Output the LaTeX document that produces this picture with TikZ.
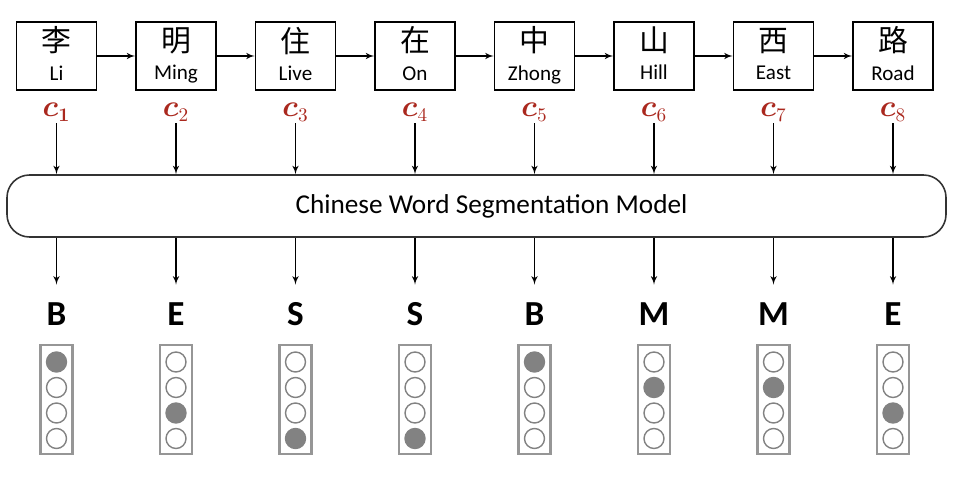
\documentclass[tikz,border=0pt]{standalone}
\usepackage{amsmath}
\usepackage{bm}
\usepackage{fontspec}
\setmainfont{Carlito}
\newfontfamily\cjk{Noto Sans CJK SC}
\usepackage{tikz}
\usetikzlibrary{arrows, positioning, shapes}
\definecolor{cred}{RGB}{170,40,30}
\definecolor{dotgray}{RGB}{130,130,130}
\definecolor{boxgray}{RGB}{150,150,150}
\newcommand{\hz}[1]{{\cjk\fontsize{17}{17}\selectfont #1}}
\tikzstyle{word} = [rectangle, draw=black, line width=0.9pt, minimum width=1.6cm, minimum height=1.36cm, align=center, font=\fontsize{12}{16}\selectfont, text depth=0.1cm, inner sep=0pt]
\tikzstyle{clabel} = [text=cred, font=\fontsize{16}{18}\selectfont, inner sep=1pt]
\tikzstyle{model} = [rectangle, rounded corners=0.45cm, draw=black!80, line width=0.9pt, minimum width=18.78cm, minimum height=1.24cm, font=\fontsize{15.5}{18}\selectfont]
\tikzstyle{tag} = [font=\fontsize{20}{24}\selectfont\bfseries, text height=0.45cm, text depth=0pt, inner xsep=2pt, inner ysep=0.355cm]
\tikzstyle{tagbox} = [rectangle, draw=boxgray, line width=1.2pt, minimum width=0.64cm, minimum height=2.18cm]
\tikzstyle{dotoff} = [circle, draw=dotgray, line width=0.8pt, minimum size=0.4cm, inner sep=0pt]
\tikzstyle{doton} = [dotoff, fill=dotgray]
\tikzstyle{line} = [draw, line width=0.7pt, -latex']

\begin{document}
\begin{tikzpicture}[node distance = 2.39cm]
	\useasboundingbox (0,0) rectangle (19.28,-9.68);
	% characters
	\node (w1) [word] at (1.13,-1.12) {\hz{李}\\Li};
	\node (w2) [word, right of=w1] {\hz{明}\\Ming};
	\node (w3) [word, right of=w2] {\hz{住}\\Live};
	\node (w4) [word, right of=w3] {\hz{在}\\On};
	\node (w5) [word, right of=w4] {\hz{中}\\Zhong};
	\node (w6) [word, right of=w5] {\hz{山}\\Hill};
	\node (w7) [word, right of=w6] {\hz{西}\\East};
	\node (w8) [word, right of=w7] {\hz{路}\\Road};

	\node (c1) [clabel, below of=w1, node distance=1.12cm] {$\bm{c}_{\bm{1}}$};
	\node (c2) [clabel, below of=w2, node distance=1.12cm] {$\bm{c}_2$};
	\node (c3) [clabel, below of=w3, node distance=1.12cm] {$\bm{c}_3$};
	\node (c4) [clabel, below of=w4, node distance=1.12cm] {$\bm{c}_4$};
	\node (c5) [clabel, below of=w5, node distance=1.12cm] {$\bm{c}_5$};
	\node (c6) [clabel, below of=w6, node distance=1.12cm] {$\bm{c}_6$};
	\node (c7) [clabel, below of=w7, node distance=1.12cm] {$\bm{c}_7$};
	\node (c8) [clabel, below of=w8, node distance=1.12cm] {$\bm{c}_8$};

	\node (model) [model] at (9.53,-4.12) {\hspace*{0.6cm}Chinese Word Segmentation Model};

	% tags
	\node (t1) [tag, below of=c1, node distance=4.04cm] {B};
	\node (t2) [tag, below of=c2, node distance=4.04cm] {E};
	\node (t3) [tag, below of=c3, node distance=4.04cm] {S};
	\node (t4) [tag, below of=c4, node distance=4.04cm] {S};
	\node (t5) [tag, below of=c5, node distance=4.04cm] {B};
	\node (t6) [tag, below of=c6, node distance=4.04cm] {M};
	\node (t7) [tag, below of=c7, node distance=4.04cm] {M};
	\node (t8) [tag, below of=c8, node distance=4.04cm] {E};

	% one-hot vectors
	\node (v1) [tagbox, below of=t1, node distance=1.71cm] {};
	\node (v1a) [doton, below of=t1, node distance=0.96cm] {};
	\node (v1b) [dotoff, below of=v1a, node distance=0.51cm] {};
	\node (v1c) [dotoff, below of=v1b, node distance=0.51cm] {};
	\node (v1d) [dotoff, below of=v1c, node distance=0.51cm] {};

	\node (v2) [tagbox, below of=t2, node distance=1.71cm] {};
	\node (v2a) [dotoff, below of=t2, node distance=0.96cm] {};
	\node (v2b) [dotoff, below of=v2a, node distance=0.51cm] {};
	\node (v2c) [doton, below of=v2b, node distance=0.51cm] {};
	\node (v2d) [dotoff, below of=v2c, node distance=0.51cm] {};

	\node (v3) [tagbox, below of=t3, node distance=1.71cm] {};
	\node (v3a) [dotoff, below of=t3, node distance=0.96cm] {};
	\node (v3b) [dotoff, below of=v3a, node distance=0.51cm] {};
	\node (v3c) [dotoff, below of=v3b, node distance=0.51cm] {};
	\node (v3d) [doton, below of=v3c, node distance=0.51cm] {};

	\node (v4) [tagbox, below of=t4, node distance=1.71cm] {};
	\node (v4a) [dotoff, below of=t4, node distance=0.96cm] {};
	\node (v4b) [dotoff, below of=v4a, node distance=0.51cm] {};
	\node (v4c) [dotoff, below of=v4b, node distance=0.51cm] {};
	\node (v4d) [doton, below of=v4c, node distance=0.51cm] {};

	\node (v5) [tagbox, below of=t5, node distance=1.71cm] {};
	\node (v5a) [doton, below of=t5, node distance=0.96cm] {};
	\node (v5b) [dotoff, below of=v5a, node distance=0.51cm] {};
	\node (v5c) [dotoff, below of=v5b, node distance=0.51cm] {};
	\node (v5d) [dotoff, below of=v5c, node distance=0.51cm] {};

	\node (v6) [tagbox, below of=t6, node distance=1.71cm] {};
	\node (v6a) [dotoff, below of=t6, node distance=0.96cm] {};
	\node (v6b) [doton, below of=v6a, node distance=0.51cm] {};
	\node (v6c) [dotoff, below of=v6b, node distance=0.51cm] {};
	\node (v6d) [dotoff, below of=v6c, node distance=0.51cm] {};

	\node (v7) [tagbox, below of=t7, node distance=1.71cm] {};
	\node (v7a) [dotoff, below of=t7, node distance=0.96cm] {};
	\node (v7b) [doton, below of=v7a, node distance=0.51cm] {};
	\node (v7c) [dotoff, below of=v7b, node distance=0.51cm] {};
	\node (v7d) [dotoff, below of=v7c, node distance=0.51cm] {};

	\node (v8) [tagbox, below of=t8, node distance=1.71cm] {};
	\node (v8a) [dotoff, below of=t8, node distance=0.96cm] {};
	\node (v8b) [dotoff, below of=v8a, node distance=0.51cm] {};
	\node (v8c) [doton, below of=v8b, node distance=0.51cm] {};
	\node (v8d) [dotoff, below of=v8c, node distance=0.51cm] {};

	% Draw edges
	\path [line] (w1) -- (w2);
	\path [line] (w2) -- (w3);
	\path [line] (w3) -- (w4);
	\path [line] (w4) -- (w5);
	\path [line] (w5) -- (w6);
	\path [line] (w6) -- (w7);
	\path [line] (w7) -- (w8);

	\path [line] (c1) -- (c1 |- model.north);
	\path [line] (c2) -- (c2 |- model.north);
	\path [line] (c3) -- (c3 |- model.north);
	\path [line] (c4) -- (c4 |- model.north);
	\path [line] (c5) -- (c5 |- model.north);
	\path [line] (c6) -- (c6 |- model.north);
	\path [line] (c7) -- (c7 |- model.north);
	\path [line] (c8) -- (c8 |- model.north);

	\path [line] (model.south -| t1) -- (t1);
	\path [line] (model.south -| t2) -- (t2);
	\path [line] (model.south -| t3) -- (t3);
	\path [line] (model.south -| t4) -- (t4);
	\path [line] (model.south -| t5) -- (t5);
	\path [line] (model.south -| t6) -- (t6);
	\path [line] (model.south -| t7) -- (t7);
	\path [line] (model.south -| t8) -- (t8);
\end{tikzpicture}
\end{document}
